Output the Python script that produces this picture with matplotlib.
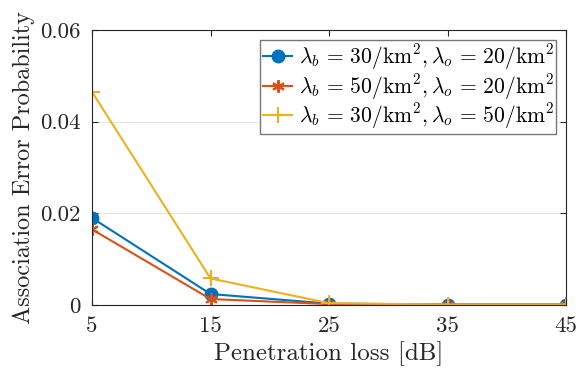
import matplotlib
matplotlib.use("Agg")
import matplotlib.pyplot as plt

plt.rcParams['mathtext.fontset'] = 'cm'
plt.rcParams['font.family'] = 'serif'
plt.rcParams['font.serif'] = ['cmr10']
plt.rcParams['axes.formatter.use_mathtext'] = True

loss_db = [5, 15, 25, 35, 45]
p_b30_o20 = [0.0190, 0.0024, 0.0003, 0.0001, 0.0001]
p_b50_o20 = [0.0165, 0.0013, 0.0002, 0.0001, 0.0001]
p_b30_o50 = [0.0465, 0.0058, 0.0004, 0.0001, 0.0001]
labels = [r'$\lambda_b \,=\, 30/\mathrm{km}^2, \lambda_o \,=\, 20/\mathrm{km}^2$',
          r'$\lambda_b \,=\, 50/\mathrm{km}^2, \lambda_o \,=\, 20/\mathrm{km}^2$',
          r'$\lambda_b \,=\, 30/\mathrm{km}^2, \lambda_o \,=\, 50/\mathrm{km}^2$']
yticks = [0, 0.02, 0.04, 0.06]
ytick_labels = ['0', '0.02', '0.04', '0.06']

fig = plt.figure(figsize=(5.79, 3.72), dpi=100)
ax = fig.add_axes([92/579, 1-305/372, (566-92)/579, (305-30)/372])

ax.plot(loss_db, p_b30_o20, color='#0072BD', marker='o', markersize=9, lw=1.5, label=labels[0])
ax.plot(loss_db, p_b50_o20, color='#D95319', marker=(6, 2, 0), markersize=9, mew=1.5, lw=1.5, label=labels[1])
ax.plot(loss_db, p_b30_o50, color='#EDB120', marker='+', markersize=11, mew=1.5, lw=1.5, label=labels[2])

ax.set_xlim(5, 45)
ax.set_ylim(0, 0.06)
ax.set_xticks(loss_db)
ax.set_xticklabels([str(v) for v in loss_db])
ax.set_yticks(yticks)
ax.set_yticklabels(ytick_labels)
ax.tick_params(direction='in', top=True, right=True, labelsize=16.5, colors='#262626', length=4, pad=6)
ax.tick_params(axis='x', pad=8)
ax.tick_params(axis='y', pad=8)
ax.yaxis.grid(True, color='#e6e6e6', lw=0.8)
ax.set_axisbelow(True)
for s in ax.spines.values():
    s.set_color('#262626')
    s.set_linewidth(0.8)
ax.set_xlabel('Penetration loss [dB]', fontsize=18, color='#262626', labelpad=4)
ax.set_ylabel('Association Error Probability', fontsize=17.5, color='#262626', labelpad=4)

leg = ax.legend(loc='upper right', fontsize=15.5, fancybox=False, framealpha=1,
                edgecolor='#777777', borderpad=0.12, labelspacing=0.0,
                handlelength=1.35, handletextpad=0.3, borderaxespad=0.45)
leg.get_frame().set_linewidth(1.0)

fig.savefig('out.png', dpi=100)
